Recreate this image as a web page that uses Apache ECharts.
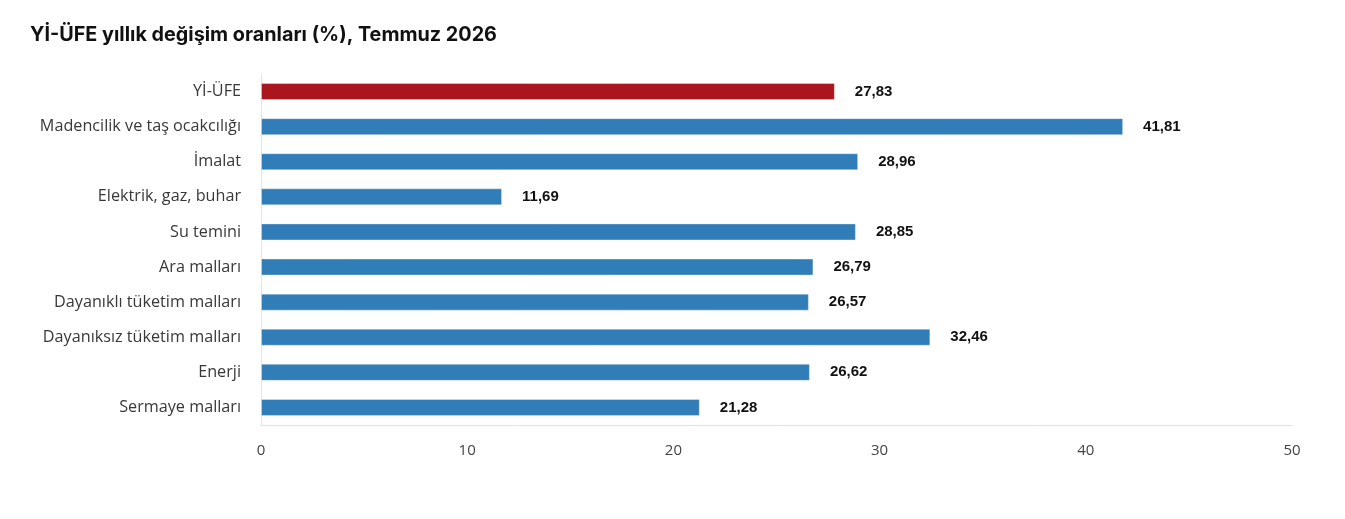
<!DOCTYPE html>
<html><head><meta charset="utf-8">
<script src="https://cdn.jsdelivr.net/npm/echarts@6/dist/echarts.min.js"></script>
<style>html,body{margin:0;padding:0;background:#fff}#c{width:1345px;height:519px}</style>
</head><body><div id="c"></div>
<script>
const categories = ["Yİ-ÜFE","Madencilik ve taş ocakcılığı","İmalat","Elektrik, gaz, buhar","Su temini","Ara malları","Dayanıklı tüketim malları","Dayanıksız tüketim malları","Enerji","Sermaye malları"];
const values = [27.83,41.81,28.96,11.69,28.85,26.79,26.57,32.46,26.62,21.28];
const highlight = ["Yİ-ÜFE"];
const xTicks = [0,10,20,30,40,50];

const chart = echarts.init(document.getElementById('c'));
chart.setOption({
  animation:false,
  title:{text:"Yİ-ÜFE yıllık değişim oranları (%), Temmuz 2026",left:25,top:20,
    textStyle:{fontFamily:"Inter",fontWeight:"bold",fontSize:19.8,color:"#111"}},
  grid:{left:261,right:53,top:74,bottom:94,containLabel:false},
  xAxis:{type:'value',min:xTicks[0],max:xTicks[xTicks.length-1],interval:10,
    axisLine:{show:true,lineStyle:{color:'#e0e0e0'}},axisTick:{show:false},
    splitLine:{show:false},
    axisLabel:{fontFamily:"Open Sans",fontSize:15,color:'#444',margin:18}},
  yAxis:{type:'category',inverse:true,data:categories,
    axisLine:{show:true,lineStyle:{color:'#e0e6f1'}},axisTick:{show:false},
    axisLabel:{fontFamily:"Open Sans",fontSize:16.2,color:'#383838',margin:20}},
  series:[{type:'bar',barWidth:17,
    data:values.map((v,i)=>({value:v,itemStyle:{color:highlight.includes(categories[i])?'#ab151e':'#317db8'}})),
    itemStyle:{borderColor:'rgba(255,255,255,0.35)',borderWidth:1},
    label:{show:true,position:'right',distance:20,fontFamily:"Liberation Sans",fontWeight:'bold',fontSize:15,color:'#111',
      formatter:p=>p.value.toFixed(2).replace('.',',')}}]
});
</script></body></html>
